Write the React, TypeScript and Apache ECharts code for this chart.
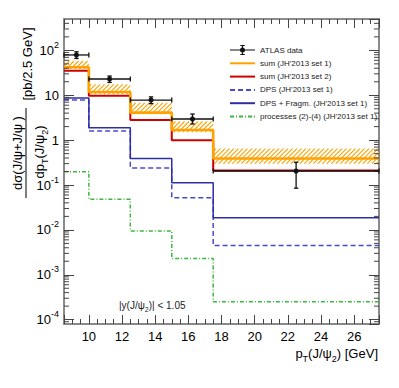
import { useEffect, useRef } from 'react';
import * as echarts from 'echarts';

const FONT = "'Liberation Sans', Arial, Helvetica, sans-serif";

// bin edges [GeV]
const binEdges = [8.5, 10, 12.5, 15, 17.5, 27.5];
// theory predictions per bin [pb/2.5 GeV]
const sumSet1 = [42, 11.8, 4.1, 1.68, 0.39];
const sumSet1Low = [38, 10.6, 3.8, 1.5, 0.3];
const sumSet1High = [58, 17.5, 6.8, 2.6, 0.65];
const sumSet2 = [35, 9.8, 2.8, 1.0, 0.21];
const dpsSet1 = [7.8, 1.6, 0.24, 0.052, 0.0045];
const dpsFragmSet1 = [8.7, 1.89, 0.39, 0.113, 0.0187];
const processesSet1 = [0.198, 0.048, 0.0095, 0.0023, 0.00025];

// ATLAS data
const atlasX = [9.25, 11.25, 13.75, 16.25, 22.5];
const atlasY = [79, 23, 7.8, 2.96, 0.205];
const atlasYErrDown = [13, 3.7, 1.3, 0.67, 0.12];
const atlasYErrUp = [14, 3.8, 1.4, 0.86, 0.116];

// axis tick labels
const yTickValues = [1e-4, 1e-3, 1e-2, 1e-1, 1, 10, 100];
const yTickLabels = ['{b|10}{e|-4}', '{b|10}{e|-3}', '{b|10}{e|-2}', '{b|10}{e|-1}', '{b|1}', '{b|10}', '{b|10}{e|2}'];

const seriesNames = [
  'ATLAS data',
  "sum (JH'2013 set 1)",
  "sum (JH'2013 set 2)",
  "DPS (JH'2013 set 1)",
  "DPS + Fragm. (JH'2013 set 1)",
  'processes (2)-(4) (JH\'2013 set 1)',
];

const Y_MIN = 8e-5;
const Y_MAX = 500;

// log minor tick positions (axis decoration)
const yMinorTicks: number[] = [];
for (let e = -5; e <= 2; e++) {
  for (let k = 2; k <= 9; k++) {
    const v = k * Math.pow(10, e);
    if (v > Y_MIN && v < Y_MAX) yMinorTicks.push(v);
  }
}

const ORANGE = '#ffa200';
const RED = '#d00000';
const BLUE_SOLID = '#2e2ea8';
const BLUE_DASH = '#4a4acf';
const GREEN = '#3cb83c';

const stepData = (vals: number[]) => binEdges.map((e, i) => [e, vals[Math.min(i, vals.length - 1)]]);

const ATLAS_ICON =
  'path://M0,4.4 H25 V5.6 H0 Z M11.9,0 H13.1 V10 H11.9 Z M10.3,0 H14.7 V1 H10.3 Z M10.3,9 H14.7 V10 H10.3 Z M10,5 a2.5,2.5 0 1 1 5,0 a2.5,2.5 0 1 1 -5,0 Z';

export default function App() {
  const ref = useRef<HTMLDivElement>(null);

  useEffect(() => {
    document.body.style.margin = '0';
    if (!ref.current) return;
    const chart = echarts.init(ref.current, undefined, { renderer: 'svg' });

    const axisLineStyle = { color: '#8a8a8a', width: 2 };
    const tickStyle = { color: '#444', width: 1 };

    const xBase = {
      type: 'value',
      min: 8.5,
      max: 27.5,
      splitNumber: 10,
      axisLine: { show: true, lineStyle: axisLineStyle },
      axisTick: { show: true, inside: true, length: 9, lineStyle: tickStyle },
      minorTick: { show: true, splitNumber: 4, length: 5, lineStyle: tickStyle },
      splitLine: { show: false },
    };
    const yBase = {
      type: 'log',
      logBase: 10,
      min: Y_MIN,
      max: Y_MAX,
      axisLine: { show: true, lineStyle: axisLineStyle },
      axisTick: { show: true, inside: true, length: 10, lineStyle: tickStyle },
      splitLine: { show: false },
      minorTick: { show: false },
    };

    const option: any = {
      animation: false,
      textStyle: { fontFamily: FONT },
      grid: { left: 64, right: 20, top: 19, bottom: 64, containLabel: false },
      xAxis: [
        {
          ...xBase,
          position: 'bottom',
          axisLabel: {
            show: true,
            fontSize: 13,
            color: '#000',
            margin: 6,
            fontFamily: FONT,
            showMinLabel: false,
            showMaxLabel: false,
            formatter: (v: number) => (Math.abs(v - Math.round(v)) < 1e-6 && Math.round(v) % 2 === 0 ? String(Math.round(v)) : ''),
          },
        },
        { ...xBase, position: 'top', axisLabel: { show: false } },
      ],
      yAxis: [
        {
          ...yBase,
          position: 'left',
          axisLabel: {
            show: true,
            margin: 5,
            showMinLabel: false,
            showMaxLabel: false,
            formatter: (v: number) => {
              const lv = Math.log10(v);
              const e = Math.round(lv);
              if (Math.abs(lv - e) > 1e-6) return '';
              const i = yTickValues.findIndex((t) => Math.round(Math.log10(t)) === e);
              return i >= 0 ? yTickLabels[i] : '';
            },
            rich: {
              b: { fontSize: 13, lineHeight: 20, color: '#000', fontFamily: FONT },
              e: { fontSize: 9, lineHeight: 9, verticalAlign: 'top', color: '#000', fontFamily: FONT },
            },
          },
        },
        { ...yBase, position: 'right', axisLabel: { show: false } },
      ],
      legend: {
        orient: 'vertical',
        left: 224,
        top: 40,
        itemWidth: 25,
        itemHeight: 10,
        itemGap: 3.3,
        selectedMode: false,
        itemStyle: { opacity: 0 },
        textStyle: { fontSize: 8, color: '#222', fontFamily: FONT, lineHeight: 10 },
        data: [
          { name: seriesNames[0], icon: ATLAS_ICON, itemStyle: { opacity: 1, color: '#111' } },
          ...seriesNames.slice(1).map((n) => ({ name: n })),
        ],
      },
      series: [
        {
          name: 'band',
          type: 'custom',
          z: 1,
          silent: true,
          clip: true,
          encode: { x: [0, 1], y: [2, 3] },
          data: sumSet1Low.map((lo, i) => [binEdges[i], binEdges[i + 1], lo, sumSet1High[i]]),
          renderItem: (params: any, api: any) => {
            const a = api.coord([api.value(0), api.value(3)]);
            const b = api.coord([api.value(1), api.value(2)]);
            const x0 = a[0], y0 = a[1], x1 = b[0], y1 = b[1];
            const step = 4.5;
            const children: any[] = [];
            const cStart = Math.ceil((x0 + y0) / step) * step;
            for (let c = cStart; c < x1 + y1; c += step) {
              const xs = Math.max(x0, c - y1);
              const xe = Math.min(x1, c - y0);
              if (xe > xs) {
                children.push({
                  type: 'line',
                  shape: { x1: xs, y1: c - xs, x2: xe, y2: c - xe },
                  style: { stroke: ORANGE, lineWidth: 1.1 },
                });
              }
            }
            return { type: 'group', children };
          },
        },
        {
          name: seriesNames[1],
          type: 'line',
          step: 'end',
          symbol: 'none',
          z: 3,
          data: stepData(sumSet1),
          lineStyle: { color: ORANGE, width: 2.6 },
          itemStyle: { color: ORANGE },
        },
        {
          name: seriesNames[2],
          type: 'line',
          step: 'end',
          symbol: 'none',
          z: 2,
          data: stepData(sumSet2),
          lineStyle: { color: RED, width: 2 },
          itemStyle: { color: RED },
        },
        {
          name: seriesNames[3],
          type: 'line',
          step: 'end',
          symbol: 'none',
          z: 2,
          data: stepData(dpsSet1),
          lineStyle: { color: BLUE_DASH, width: 1.5, type: [5, 3] },
          itemStyle: { color: BLUE_DASH },
        },
        {
          name: seriesNames[4],
          type: 'line',
          step: 'end',
          symbol: 'none',
          z: 2,
          data: stepData(dpsFragmSet1),
          lineStyle: { color: BLUE_SOLID, width: 1.5 },
          itemStyle: { color: BLUE_SOLID },
        },
        {
          name: seriesNames[5],
          type: 'line',
          step: 'end',
          symbol: 'none',
          z: 2,
          data: stepData(processesSet1),
          lineStyle: { color: GREEN, width: 1.5, type: [4, 2, 1, 2] },
          itemStyle: { color: GREEN },
        },
        {
          name: 'minorTicks',
          type: 'custom',
          z: 4,
          silent: true,
          clip: false,
          encode: { x: 0, y: 1 },
          data: yMinorTicks.map((v) => [10, v]),
          renderItem: (params: any, api: any) => {
            const cs = params.coordSys;
            const y = api.coord([10, api.value(1)])[1];
            const st = { stroke: '#444', lineWidth: 1 };
            return {
              type: 'group',
              children: [
                { type: 'line', shape: { x1: cs.x, y1: y, x2: cs.x + 5, y2: y }, style: st },
                { type: 'line', shape: { x1: cs.x + cs.width - 5, y1: y, x2: cs.x + cs.width, y2: y }, style: st },
              ],
            };
          },
        },
        {
          name: seriesNames[0],
          type: 'custom',
          z: 5,
          clip: false,
          itemStyle: { color: '#111' },
          encode: { x: [0, 2, 3], y: [1, 4, 5] },
          data: atlasX.map((x, i) => [
            x,
            atlasY[i],
            binEdges[i],
            binEdges[i + 1],
            atlasY[i] - atlasYErrDown[i],
            atlasY[i] + atlasYErrUp[i],
          ]),
          renderItem: (params: any, api: any) => {
            const x = api.value(0), y = api.value(1);
            const c = api.coord([x, y]);
            const pl = api.coord([api.value(2), y]);
            const ph = api.coord([api.value(3), y]);
            const pd = api.coord([x, api.value(4)]);
            const pu = api.coord([x, api.value(5)]);
            const st = { stroke: '#111', lineWidth: 1.3 };
            return {
              type: 'group',
              children: [
                { type: 'line', shape: { x1: pl[0], y1: c[1], x2: ph[0], y2: c[1] }, style: st },
                { type: 'line', shape: { x1: pl[0], y1: c[1] - 2.5, x2: pl[0], y2: c[1] + 2.5 }, style: st },
                { type: 'line', shape: { x1: ph[0], y1: c[1] - 2.5, x2: ph[0], y2: c[1] + 2.5 }, style: st },
                { type: 'line', shape: { x1: c[0], y1: pd[1], x2: c[0], y2: pu[1] }, style: st },
                { type: 'line', shape: { x1: c[0] - 2.2, y1: pd[1], x2: c[0] + 2.2, y2: pd[1] }, style: st },
                { type: 'line', shape: { x1: c[0] - 2.2, y1: pu[1], x2: c[0] + 2.2, y2: pu[1] }, style: st },
                { type: 'circle', shape: { cx: c[0], cy: c[1], r: 2.6 }, style: { fill: '#111' } },
              ],
            };
          },
        },
      ],
      graphic: [
        {
          type: 'text',
          x: 27,
          y: 64,
          rotation: Math.PI / 2,
          style: { text: '[pb/2.5 GeV]', fontSize: 13, fontFamily: FONT, fill: '#000', align: 'center', verticalAlign: 'middle' },
        },
        {
          type: 'text',
          x: 17,
          y: 153,
          rotation: Math.PI / 2,
          style: { text: 'dσ(J/ψ+J/ψ )', fontSize: 13, fontFamily: FONT, fill: '#000', align: 'center', verticalAlign: 'middle' },
        },
        { type: 'line', shape: { x1: 26, y1: 108, x2: 26, y2: 198 }, style: { stroke: '#000', lineWidth: 1 } },
        {
          type: 'text',
          x: 39,
          y: 152,
          rotation: Math.PI / 2,
          style: {
            text: '{n|dp}{s|T}{n|(J/ψ}{s|2}{n|)}',
            align: 'center',
            verticalAlign: 'middle',
            rich: {
              n: { fontSize: 13, lineHeight: 20, fontFamily: FONT, fill: '#000' },
              s: { fontSize: 9, lineHeight: 9, verticalAlign: 'bottom', fontFamily: FONT, fill: '#000' },
            },
          },
        },
        {
          type: 'text',
          x: 378,
          y: 353,
          style: {
            text: '{n|p}{s|T}{n|(J/ψ}{s|2}{n|) [GeV]}',
            align: 'right',
            verticalAlign: 'middle',
            rich: {
              n: { fontSize: 13, lineHeight: 20, fontFamily: FONT, fill: '#000' },
              s: { fontSize: 9, lineHeight: 9, verticalAlign: 'bottom', fontFamily: FONT, fill: '#000' },
            },
          },
        },
        {
          type: 'text',
          x: 119,
          y: 305,
          style: {
            text: '{n||y(J/ψ}{s|2}{n|)| < 1.05}',
            align: 'left',
            verticalAlign: 'middle',
            rich: {
              n: { fontSize: 10, lineHeight: 15, fontFamily: FONT, fill: '#222' },
              s: { fontSize: 7, lineHeight: 7, verticalAlign: 'bottom', fontFamily: FONT, fill: '#222' },
            },
          },
        },
      ],
    };

    chart.setOption(option);
    return () => chart.dispose();
  }, []);

  return <div ref={ref} style={{ width: 399, height: 388 }} />;
}
